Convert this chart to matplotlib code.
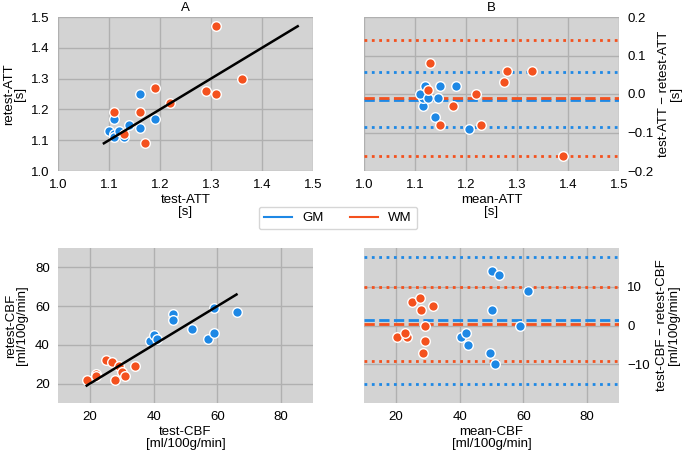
import numpy as np
import matplotlib
matplotlib.use("Agg")
import matplotlib.pyplot as plt
from matplotlib.lines import Line2D

# test / retest values per subject
gm_att_test = [1.10, 1.11, 1.11, 1.11, 1.12, 1.13, 1.14, 1.16, 1.16, 1.19]
gm_att_retest = [1.13, 1.12, 1.11, 1.17, 1.13, 1.11, 1.15, 1.25, 1.14, 1.17]
wm_att_test = [1.11, 1.13, 1.16, 1.17, 1.19, 1.22, 1.29, 1.31, 1.31, 1.36]
wm_att_retest = [1.19, 1.12, 1.19, 1.09, 1.27, 1.22, 1.26, 1.47, 1.25, 1.30]

gm_cbf_test = [39, 40, 41, 46, 46, 52, 57, 59, 59, 66]
gm_cbf_retest = [42, 45, 43, 56, 53, 48, 43, 46, 59, 57]
wm_cbf_test = [19, 22, 22, 25, 27, 28, 29, 30, 31, 34]
wm_cbf_retest = [22, 25, 24, 32, 31, 22, 29, 26, 24, 29]

GM_COL = "#1e88e5"
WM_COL = "#f4511e"
BG = "#d3d3d3"
GRID = "#b0b0b0"

plt.rcParams["font.family"] = ["Liberation Sans", "DejaVu Sans"]
plt.rcParams["font.size"] = 9.5

fig = plt.figure(figsize=(6.85, 4.55), dpi=100)
W, H = 685, 455


def make_ax(l, t, r, b):
    ax = fig.add_axes([l / W, 1 - b / H, (r - l) / W, (b - t) / H])
    ax.set_facecolor(BG)
    for s in ax.spines.values():
        s.set_visible(False)
    ax.grid(True, color=GRID, lw=1)
    ax.set_axisbelow(True)
    ax.tick_params(length=0, pad=6)
    return ax


def ylab(ax, text, xpos):
    ax.set_ylabel(text, linespacing=0.9)
    ax.yaxis.set_label_coords(xpos, 0.5)
    ax.yaxis.label.set_va("center")
    ax.yaxis.label.set_rotation_mode("anchor")


def scatter_panel(ax, gm_t, gm_r, wm_t, wm_r):
    allv = np.concatenate([gm_t, gm_r, wm_t, wm_r])
    ax.scatter(gm_t, gm_r, s=48, color=GM_COL, edgecolor="white", lw=1, zorder=3)
    ax.scatter(wm_t, wm_r, s=48, color=WM_COL, edgecolor="white", lw=1, zorder=3)
    lo, hi = allv.min(), allv.max()
    ax.plot([lo, hi], [lo, hi], color="black", lw=1.8, zorder=4)


def ba_panel(ax, gm_t, gm_r, wm_t, wm_r):
    for t, r, c in [(gm_t, gm_r, GM_COL), (wm_t, wm_r, WM_COL)]:
        t = np.array(t, float)
        r = np.array(r, float)
        m = (t + r) / 2
        d = t - r
        md = d.mean()
        sd = d.std(ddof=1)
        ax.scatter(m, d, s=48, color=c, edgecolor="white", lw=1, zorder=3)
        ax.axhline(md, color=c, ls="--", lw=2, zorder=2)
        ax.axhline(md + 1.96 * sd, color=c, ls=":", lw=2, zorder=2)
        ax.axhline(md - 1.96 * sd, color=c, ls=":", lw=2, zorder=2)
    ax.yaxis.tick_right()
    ax.yaxis.set_label_position("right")


# A
axA = make_ax(58, 17, 313, 171)
scatter_panel(axA, gm_att_test, gm_att_retest, wm_att_test, wm_att_retest)
axA.set_xlim(1.0, 1.5)
axA.set_ylim(1.0, 1.5)
axA.set_xticks(np.arange(1.0, 1.51, 0.1))
axA.set_yticks(np.arange(1.0, 1.51, 0.1))
axA.set_xlabel("test-ATT\n[s]", labelpad=2, linespacing=1.0)
ylab(axA, "retest-ATT\n[s]", -0.17)
axA.set_title("A", fontsize=9.5, pad=4)

# B
axB = make_ax(364, 17, 619, 171)
ba_panel(axB, gm_att_test, gm_att_retest, wm_att_test, wm_att_retest)
axB.set_xlim(1.0, 1.5)
axB.set_ylim(-0.2, 0.2)
axB.set_xticks(np.arange(1.0, 1.51, 0.1))
axB.set_yticks([-0.2, -0.1, 0.0, 0.1, 0.2])
axB.set_xlabel("mean-ATT\n[s]", labelpad=2, linespacing=1.0)
ylab(axB, "test-ATT \u2212 retest-ATT\n[s]", 1.2)
axB.set_title("B", fontsize=9.5, pad=4)

# C
axC = make_ax(58, 248, 313, 403)
scatter_panel(axC, gm_cbf_test, gm_cbf_retest, wm_cbf_test, wm_cbf_retest)
axC.set_xlim(10, 90)
axC.set_ylim(10, 90)
axC.set_xticks([20, 40, 60, 80])
axC.set_yticks([20, 40, 60, 80])
axC.set_xlabel("test-CBF\n[ml/100g/min]", labelpad=2, linespacing=1.0)
ylab(axC, "retest-CBF\n[ml/100g/min]", -0.161)

# D
axD = make_ax(364, 248, 619, 403)
ba_panel(axD, gm_cbf_test, gm_cbf_retest, wm_cbf_test, wm_cbf_retest)
axD.set_xlim(10, 90)
axD.set_ylim(-20, 20)
axD.set_xticks([20, 40, 60, 80])
axD.set_yticks([-10, 0, 10])
axD.set_xlabel("mean-CBF\n[ml/100g/min]", labelpad=2, linespacing=1.0)
ylab(axD, "test-CBF \u2212 retest-CBF\n[ml/100g/min]", 1.192)

handles = [Line2D([], [], color=GM_COL, lw=1.5), Line2D([], [], color=WM_COL, lw=1.5)]
fig.legend(handles, ["GM", "WM"], ncol=2, loc="center", bbox_to_anchor=(338 / W, 1 - 218 / H),
           frameon=True, columnspacing=2.0, handlelength=2.1, handletextpad=0.8, fontsize=9.5)

fig.savefig("out.png", dpi=100)
